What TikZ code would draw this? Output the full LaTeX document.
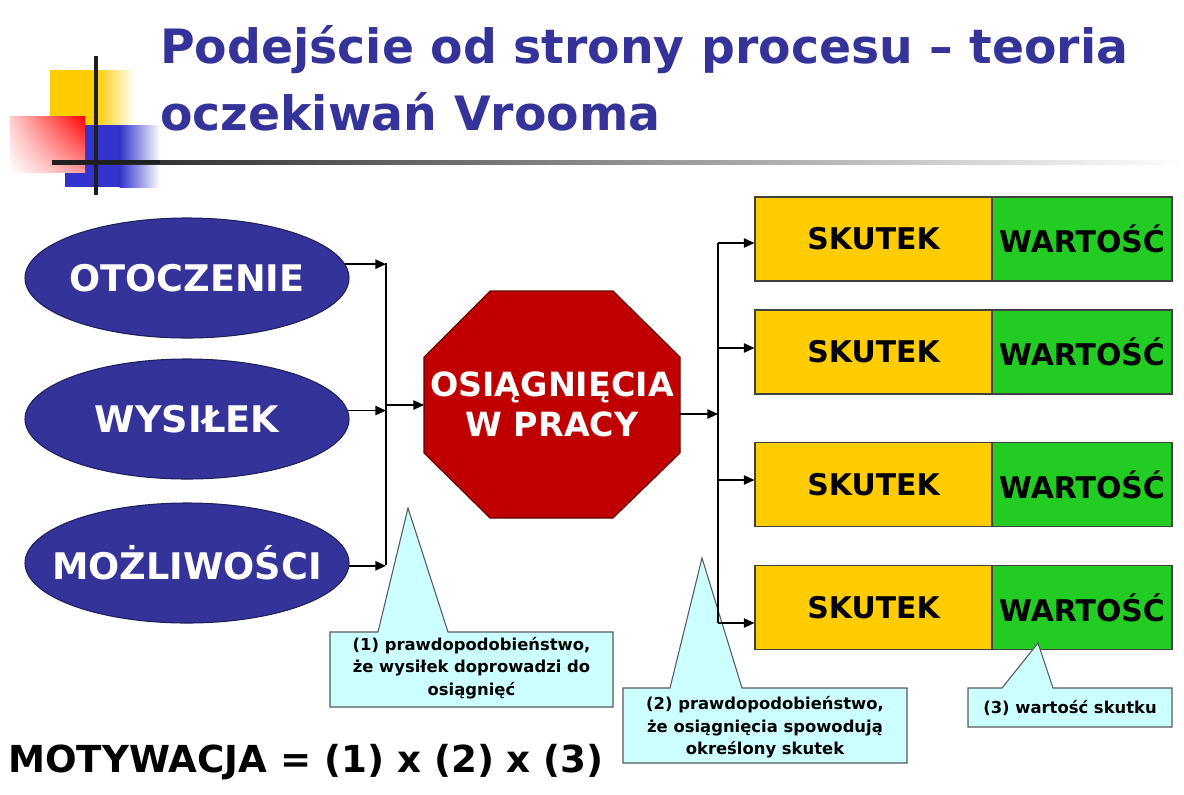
\documentclass[tikz,border=0pt]{standalone}
\usepackage{fontspec}
\setmainfont{DejaVu Sans}
\usetikzlibrary{arrows.meta,shapes.geometric,shadings}

\definecolor{titleblue}{HTML}{333399}
\definecolor{ovalblue}{HTML}{333399}
\definecolor{ovalline}{HTML}{1F1F5C}
\definecolor{octred}{HTML}{C00000}
\definecolor{effyellow}{HTML}{FFCC00}
\definecolor{valgreen}{HTML}{22CC22}
\definecolor{calloutcyan}{HTML}{CCFFFF}
\definecolor{decoyellow}{HTML}{FFCC00}
\definecolor{decoblue}{HTML}{3333CC}
\definecolor{decored}{HTML}{FF0000}

\tikzset{
  oval/.style={ellipse, draw=ovalline, line width=0.8pt, fill=ovalblue,
    minimum width=243pt, minimum height=90pt, inner sep=0pt},
  ovaltext/.style={text=white, inner sep=0pt,
    font=\fontsize{27.5}{30}\selectfont\bfseries},
  effect/.style={rectangle, draw=black!75, line width=0.8pt, fill=effyellow,
    minimum width=177.75pt, minimum height=63pt, inner sep=0pt,
    font=\fontsize{22.4}{26}\selectfont\bfseries},
  worth/.style={effect, fill=valgreen, minimum width=135pt},
  octtext/.style={text=white, align=center, inner sep=0pt,
    font=\fontsize{25}{30}\selectfont\bfseries},
  conn/.style={line width=1.3pt},
  arr/.style={conn, -{Triangle[length=8pt,width=7pt]}},
  callout/.style={draw=black!65, fill=calloutcyan, line width=0.8pt},
  note/.style={font=\fontsize{12.3}{16.8}\selectfont\bfseries, align=center, inner sep=0pt},
}

\begin{document}
\begin{tikzpicture}[x=0.75pt,y=-0.75pt]
\useasboundingbox (0,0) rectangle (1184,794);

% corner ornament
\fill[decoyellow] (50,70) rectangle (96,125);
\shade[left color=decoyellow, right color=white] (95.5,70) rectangle (135,125);
\fill[decoblue] (65,125) rectangle (120,187);
\shade[left color=decoblue, right color=white] (119.5,125) rectangle (160,187);
\shade[upper right=decored, upper left=decored!20, lower right=decored!40, lower left=white]
  (10,116) rectangle (85,172);
\shade[left color=black!88, middle color=black!35, right color=white] (52,160) rectangle (1184,164);
\fill[black!88] (52,160) rectangle (160,164);
\draw[line width=3pt, black!88] (96,56) -- (96,195);

% title
\node[anchor=base west, inner sep=0pt, text=titleblue, font=\fontsize{35.5}{40}\selectfont\bfseries]
  (title1) at (160,63) {Podejście od strony procesu – teoria};
\node[anchor=base west, inner sep=0pt, text=titleblue, font=\fontsize{35.5}{40}\selectfont\bfseries]
  (title2) at (160,130) {oczekiwań Vrooma};

% inputs
\node[oval, label={[ovaltext, name=e1t]center:OTOCZENIE}] (e1) at (187,278) {};
\node[oval, label={[ovaltext, name=e2t]center:WYSIŁEK}] (e2) at (187,419) {};
\node[oval, label={[ovaltext, name=e3t]center:MOŻLIWOŚCI}] (e3) at (187,563) {};

% performance octagon
\filldraw[fill=octred, draw=black!50!octred, line width=0.8pt]
  (490,291) -- (613,291) -- (680,357) -- (680,453) -- (613,518)
  -- (490,518) -- (424,453) -- (424,357) -- cycle;
\node[octtext] (goal) at (552,404) {OSIĄGNIĘCIA\\W PRACY};
\coordinate (goalW) at (424,405);
\coordinate (goalE) at (680,414);

% outcome rows
\node[effect] (sk1) at (873.5,239) {SKUTEK};
\node[worth]  (wa1) at (1082,239) {WARTOŚĆ};
\node[effect] (sk2) at (873.5,352) {SKUTEK};
\node[worth]  (wa2) at (1082,352) {WARTOŚĆ};
\node[effect] (sk3) at (873.5,484.5) {SKUTEK};
\node[worth]  (wa3) at (1082,484.5) {WARTOŚĆ};
\node[effect] (sk4) at (873.5,607.5) {SKUTEK};
\node[worth]  (wa4) at (1082,607.5) {WARTOŚĆ};

% callouts
\filldraw[callout] (330,632) -- (378,632) -- (408,508) -- (448,632) -- (613,632)
  -- (613,707) -- (330,707) -- cycle;
\node[note] (n1) at (471.5,668) {(1) prawdopodobieństwo,\\że wysiłek doprowadzi do\\osiągnięć};
\filldraw[callout] (623,688) -- (670,688) -- (702,558) -- (742,688) -- (907,688)
  -- (907,763) -- (623,763) -- cycle;
\node[note] (n2) at (765,727.5) {(2) prawdopodobieństwo,\\że osiągnięcia spowodują\\określony skutek};
\filldraw[callout] (968,688) -- (1002,688) -- (1038,643) -- (1053,688) -- (1172,688)
  -- (1172,727) -- (968,727) -- cycle;
\node[note] (n3) at (1070,707.5) {(3) wartość skutku};

% connectors
\coordinate (busLtop) at (386,263);
\coordinate (busLbot) at (386,565);
\draw[conn] (busLtop) -- (busLbot);
\draw[arr] (e1.5) -- (e1.5 -| busLtop);
\draw[arr] (e2.3) -- (e2.3 -| busLtop);
\draw[arr] (e3.-1) -- (e3.-1 -| busLtop);
\draw[arr] (busLtop |- goalW) -- (goalW);

\coordinate (busRtop) at (718,243);
\coordinate (tap2) at (718,348);
\coordinate (tap3) at (718,480);
\coordinate (busRbot) at (718,623);
\draw[conn] (busRtop) -- (busRbot);
\draw[arr] (goalE) -- (goalE -| busRtop);
\draw[arr] (busRtop) -- (busRtop -| sk1.west);
\draw[arr] (tap2) -- (tap2 -| sk2.west);
\draw[arr] (tap3) -- (tap3 -| sk3.west);
\draw[arr] (busRbot) -- (busRbot -| sk4.west);

% formula
\node[anchor=base west, inner sep=0pt, font=\fontsize{27.9}{30}\selectfont\bfseries]
  (formula) at (8,772) {MOTYWACJA = (1) x (2) x (3)};
\end{tikzpicture}
\end{document}
